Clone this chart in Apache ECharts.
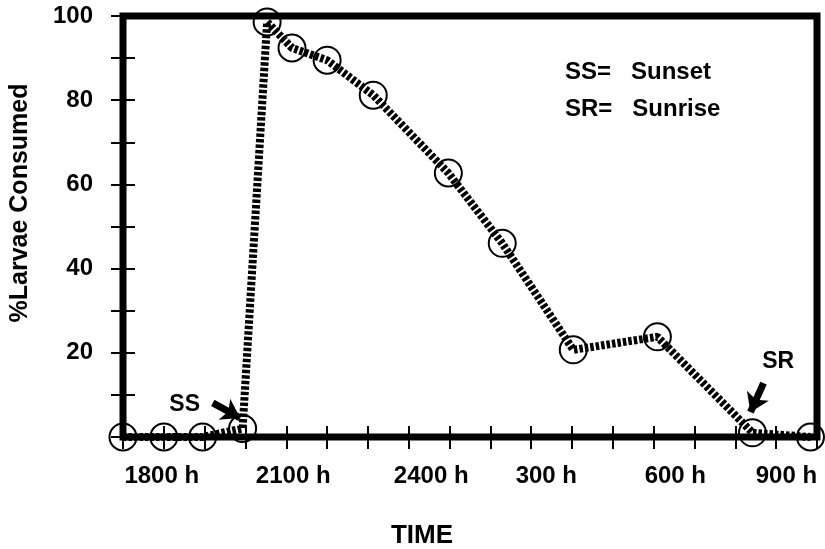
<!DOCTYPE html>
<html>
<head>
<meta charset="utf-8">
<title>Larvae consumed</title>
<script src="https://cdn.jsdelivr.net/npm/echarts@6/dist/echarts.min.js"></script>
<style>
	html, body { margin: 0; padding: 0; background: #fff; }
	#chart01 { width: 825px; height: 549px; }
</style>
</head>
<body>
<div id="chart01"></div>
<script>
// hours counted from 1700 h (one tick = one hour)
var timeHours = [0, 1, 1.95, 2.93, 3.53, 4.14, 5.0, 6.13, 7.97, 9.29, 11.03, 13.09, 15.42, 16.84];
var consumed = [0, 0, 0, 2, 98.6, 92.4, 89.5, 81.2, 62.7, 46, 20.7, 23.8, 1, 0];

var timeLabels = ['1800 h', '2100 h', '2400 h', '300 h', '600 h', '900 h'];
var timeLabelAt = [0.95, 4.17, 7.55, 10.37, 13.53, 16.25];

var yLabels = [20, 40, 60, 80, 100];

var font = 'Liberation Sans, Arial, Helvetica, sans-serif';

var points = [];
for (var i = 0; i < timeHours.length; i++) {
	points.push([timeHours[i], consumed[i]]);
}

var chart = echarts.init(document.getElementById('chart01'));
var option = {
	animation: false,
	backgroundColor: '#fff',
	title: [
		{
			text: 'SS=   Sunset',
			left: 560,
			top: 55,
			textStyle: { color: '#000', fontSize: 24, fontWeight: 'bold', fontFamily: font }
		},
		{
			text: 'SR=   Sunrise',
			left: 560,
			top: 92,
			textStyle: { color: '#000', fontSize: 24, fontWeight: 'bold', fontFamily: font }
		}
	],
	grid: {
		left: 123,
		right: 8,
		top: 16,
		bottom: 112,
		outerBoundsMode: 'none',
		containLabel: false,
		show: true,
		borderColor: '#000',
		borderWidth: 7,
		backgroundColor: 'transparent'
	},
	xAxis: [
		{
			type: 'value',
			position: 'bottom',
			min: 0,
			max: 17,
			interval: 1,
			name: 'TIME',
			nameLocation: 'middle',
			nameGap: 86,
			nameTextStyle: {
				color: '#000',
				fontSize: 26,
				fontWeight: 'bold',
				fontFamily: font,
				padding: [0, 96, 0, 0]
			},
			axisLine: { show: false },
			axisTick: { show: true, inside: true, length: 11, lineStyle: { color: '#000', width: 2 } },
			axisLabel: {
				customValues: timeLabelAt,
				margin: 27,
				color: '#000',
				fontSize: 24,
				fontWeight: 'bold',
				fontFamily: font,
				formatter: function (v) {
					var k = timeLabelAt.indexOf(v);
					return k >= 0 ? timeLabels[k] : '';
				}
			},
			splitLine: { show: false }
		},
		{
			type: 'value',
			position: 'top',
			min: 0,
			max: 17,
			interval: 1,
			axisLine: { show: false },
			axisTick: { show: true, inside: true, length: 12, lineStyle: { color: '#000', width: 2 } },
			axisLabel: { show: false },
			splitLine: { show: false }
		}
	],
	yAxis: [
		{
			type: 'value',
			position: 'left',
			min: 0,
			max: 100,
			interval: 10,
			name: '%Larvae Consumed',
			nameLocation: 'middle',
			nameRotate: 90,
			nameGap: 90,
			nameTextStyle: {
				color: '#000',
				fontSize: 25,
				fontWeight: 'bold',
				fontFamily: font,
				padding: [0, 0, 0, 47]
			},
			axisLine: { show: false },
			axisTick: { show: true, inside: true, length: 12, lineStyle: { color: '#000', width: 2 } },
			axisLabel: {
				margin: 30,
				color: '#000',
				fontSize: 24,
				fontWeight: 'bold',
				fontFamily: font,
				formatter: function (v) {
					return yLabels.indexOf(v) >= 0 ? String(v) : '';
				}
			},
			splitLine: { show: false }
		},
		{
			type: 'value',
			position: 'right',
			min: 0,
			max: 100,
			interval: 10,
			axisLine: { show: false },
			axisTick: { show: true, inside: true, length: 12, lineStyle: { color: '#000', width: 2 } },
			axisLabel: { show: false },
			splitLine: { show: false }
		}
	],
	series: [
		{
			name: '%Larvae Consumed',
			type: 'line',
			xAxisIndex: 0,
			yAxisIndex: 0,
			clip: false,
			symbol: 'circle',
			symbolSize: 27,
			itemStyle: { color: 'rgba(255,255,255,0)', borderColor: '#000', borderWidth: 2 },
			lineStyle: { color: '#000', width: 8, type: [3.5, 2], cap: 'butt' },
			data: points,
			markLine: {
				silent: true,
				symbol: ['none', 'arrow'],
				symbolSize: [18, 18],
				label: { show: false },
				lineStyle: { color: '#000', width: 7, type: 'solid' },
				data: [
					[{ coord: [2.2, 8.1] }, { coord: [2.87, 4.5] }],
					[{ coord: [15.69, 12.8] }, { coord: [15.37, 5.9] }]
				]
			},
			markPoint: {
				silent: true,
				symbol: 'circle',
				symbolSize: 0,
				label: {
					show: true,
					position: 'inside',
					formatter: '{b}',
					color: '#000',
					fontSize: 23,
					fontWeight: 'bold',
					fontFamily: font
				},
				data: [
					{ name: 'SS', coord: [1.51, 7.6] },
					{ name: 'SR', coord: [16.05, 17.8] }
				]
			}
		}
	]
};
chart.setOption(option);
</script>
</body>
</html>
